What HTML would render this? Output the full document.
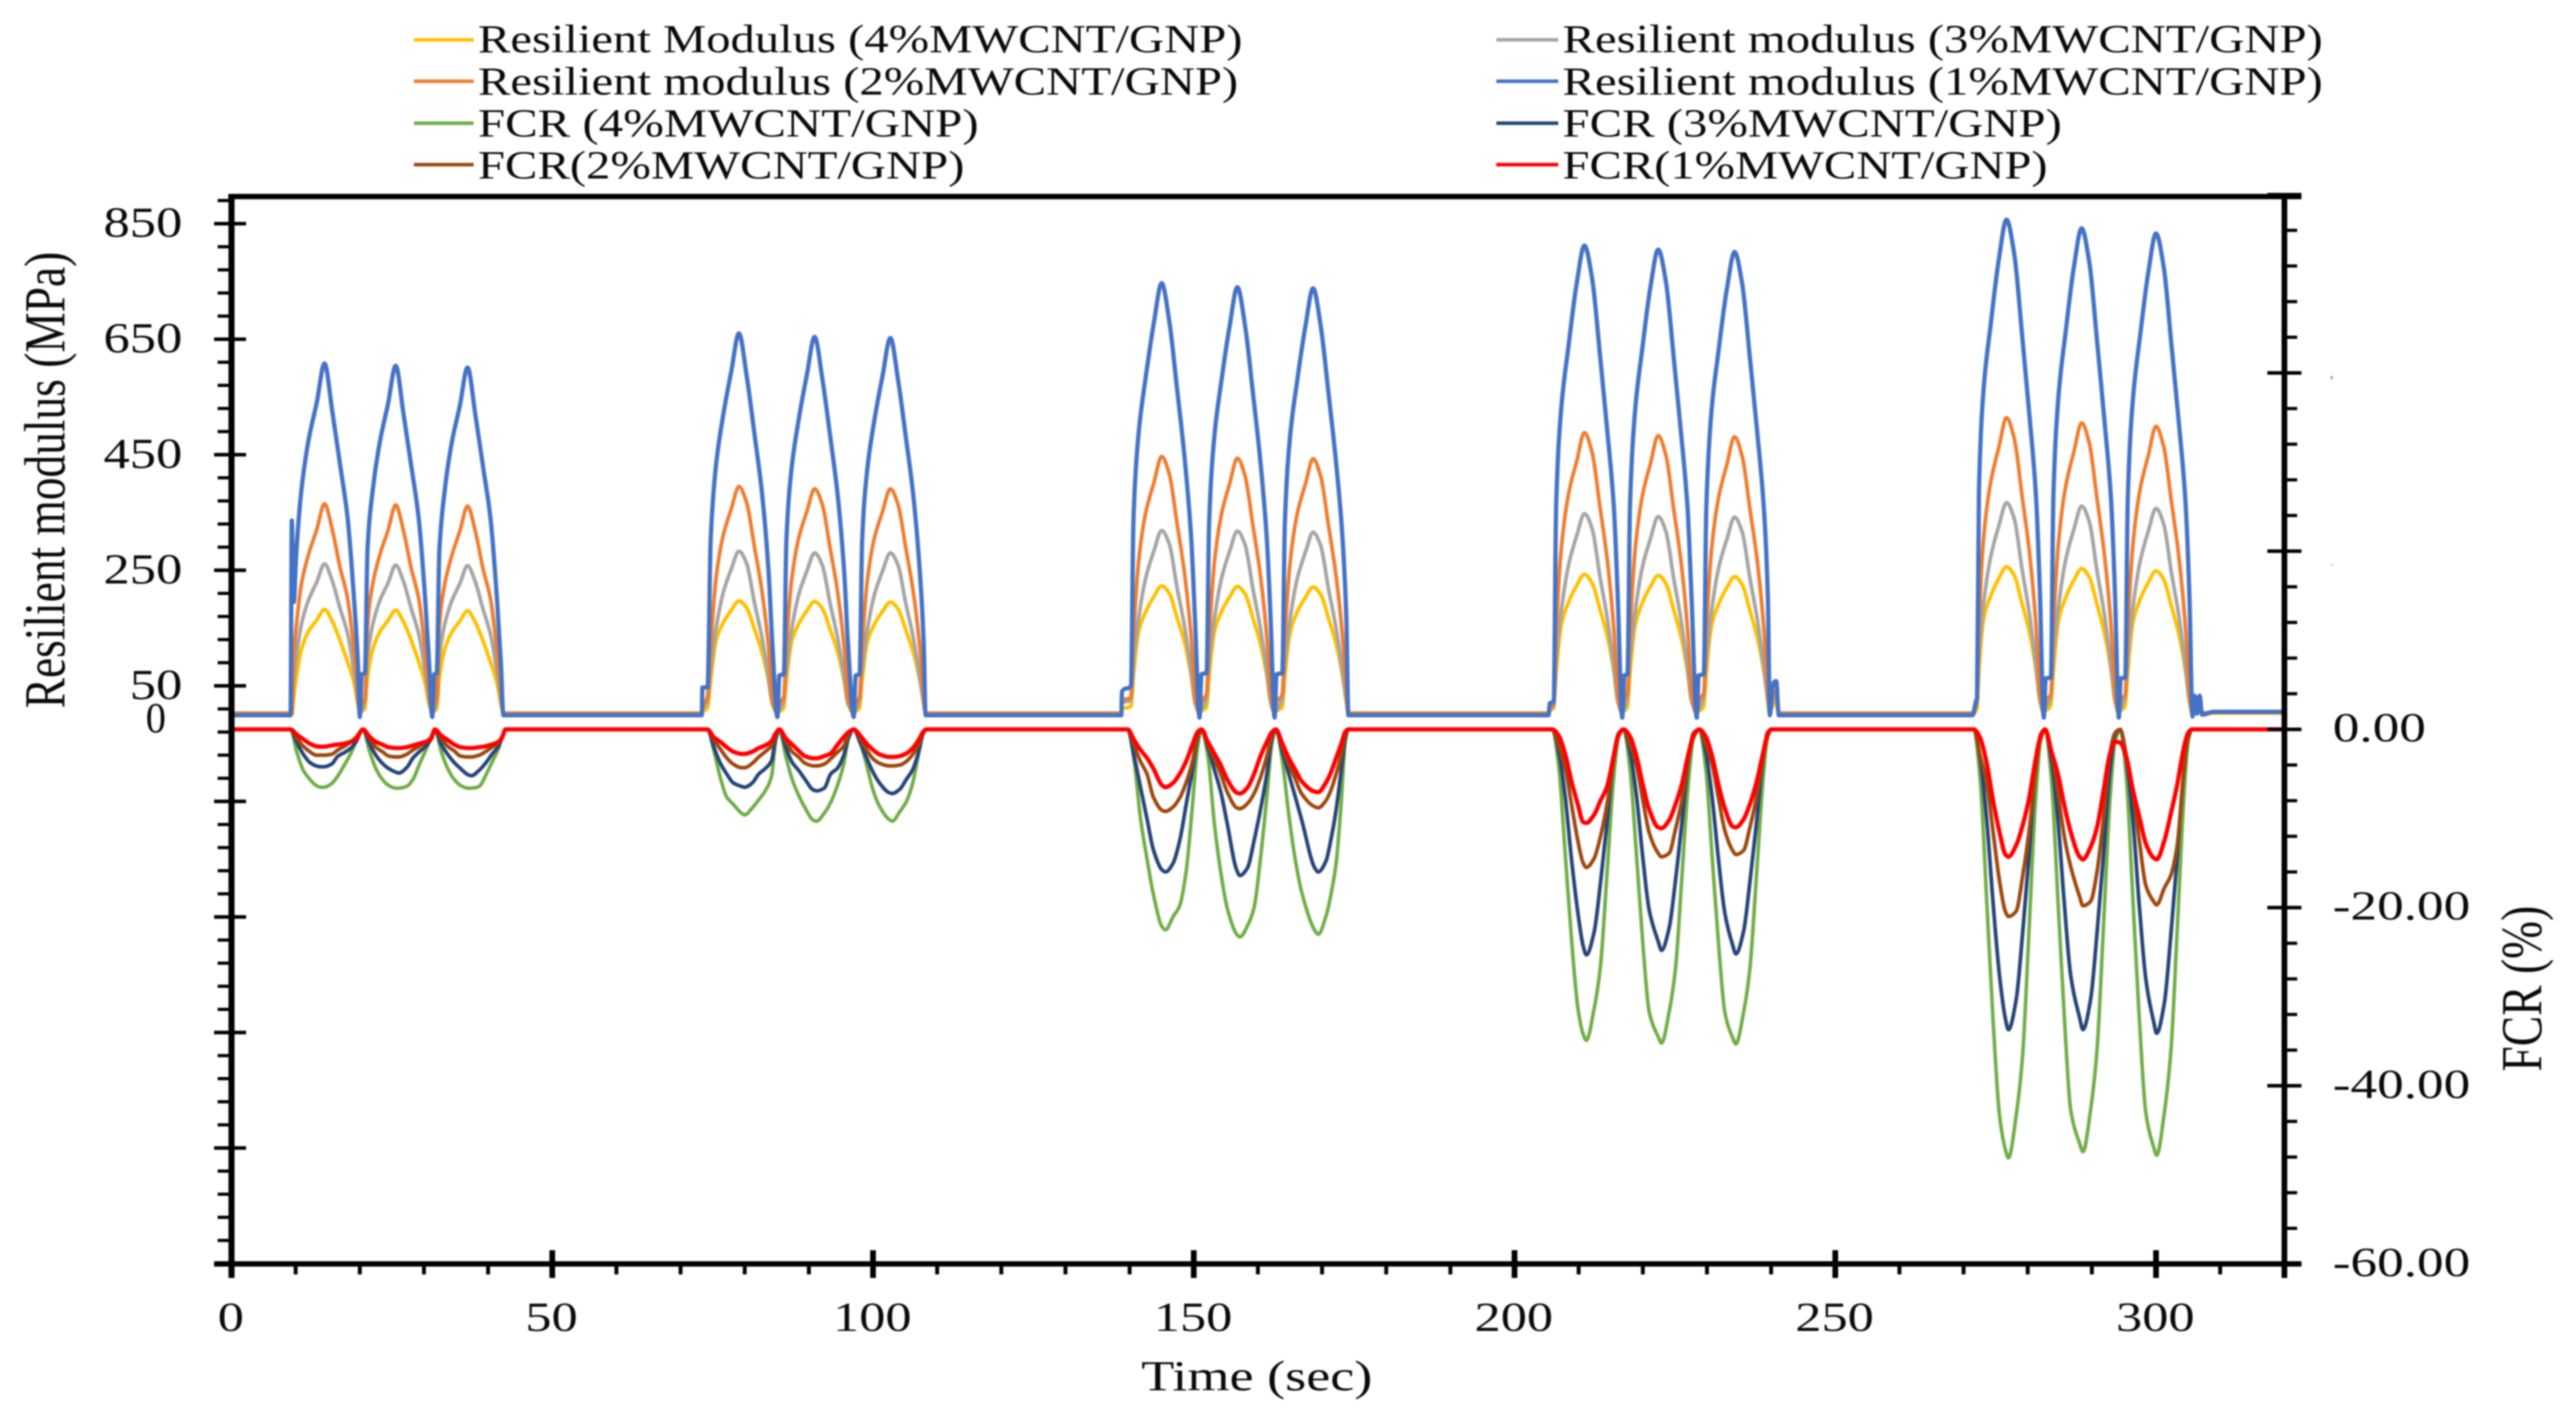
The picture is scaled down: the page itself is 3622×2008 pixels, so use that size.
<!DOCTYPE html>
<html lang="en">
<head>
<meta charset="utf-8">
<title>Resilient modulus and FCR vs time</title>
<style>
html,body{margin:0;padding:0;background:#fff;width:3622px;height:2008px;overflow:hidden}
svg{display:block;filter:blur(1.1px)}
text{font-family:"Liberation Serif",serif;fill:#0a0a0a}
</style>
</head>
<body>
<svg id="chart" xmlns="http://www.w3.org/2000/svg" width="3622" height="2008" viewBox="0 0 3622 2008">
  <rect width="3622" height="2008" fill="#fff"/>
  <g id="plot"></g>
  <g id="axes"></g>
  <g id="labels"></g>

  <g>
    <g>
      <line x1="582" x2="666" y1="56" y2="56" stroke="#FFC000" stroke-width="5"/>
      <text x="672" y="73.7" font-size="56" textLength="1075" lengthAdjust="spacingAndGlyphs">Resilient Modulus (4%MWCNT/GNP)</text>
    </g>
    <g>
      <line x1="582" x2="666" y1="114.3" y2="114.3" stroke="#ED7D31" stroke-width="5"/>
      <text x="672" y="133" font-size="56" textLength="1069" lengthAdjust="spacingAndGlyphs">Resilient modulus (2%MWCNT/GNP)</text>
    </g>
    <g>
      <line x1="582" x2="666" y1="173.3" y2="173.3" stroke="#70AD47" stroke-width="5"/>
      <text x="672" y="192" font-size="56" textLength="704" lengthAdjust="spacingAndGlyphs">FCR (4%MWCNT/GNP)</text>
    </g>
    <g>
      <line x1="582" x2="666" y1="231.5" y2="231.5" stroke="#9E480E" stroke-width="5"/>
      <text x="672" y="251" font-size="56" textLength="684" lengthAdjust="spacingAndGlyphs">FCR(2%MWCNT/GNP)</text>
    </g>
    <g>
      <line x1="2104" x2="2191" y1="56" y2="56" stroke="#A5A5A5" stroke-width="5"/>
      <text x="2197" y="73.7" font-size="56" textLength="1069" lengthAdjust="spacingAndGlyphs">Resilient modulus (3%MWCNT/GNP)</text>
    </g>
    <g>
      <line x1="2104" x2="2191" y1="114.3" y2="114.3" stroke="#4472C4" stroke-width="5"/>
      <text x="2197" y="133" font-size="56" textLength="1069" lengthAdjust="spacingAndGlyphs">Resilient modulus (1%MWCNT/GNP)</text>
    </g>
    <g>
      <line x1="2104" x2="2191" y1="173.3" y2="173.3" stroke="#264478" stroke-width="5"/>
      <text x="2197" y="192" font-size="56" textLength="702" lengthAdjust="spacingAndGlyphs">FCR (3%MWCNT/GNP)</text>
    </g>
    <g>
      <line x1="2104" x2="2191" y1="231.5" y2="231.5" stroke="#FF0000" stroke-width="5"/>
      <text x="2197" y="251" font-size="56" textLength="682" lengthAdjust="spacingAndGlyphs">FCR(1%MWCNT/GNP)</text>
    </g>
  </g>

  <text transform="translate(90.3,996) rotate(-90) scale(1,1.28)" font-size="64" textLength="642" lengthAdjust="spacingAndGlyphs">Resilient modulus (MPa)</text>
  <text transform="translate(3573,1506.7) rotate(-90) scale(1,1.28)" font-size="64" textLength="233" lengthAdjust="spacingAndGlyphs">FCR (%)</text>
  <text x="1604.6" y="1955" font-size="60" textLength="325" lengthAdjust="spacingAndGlyphs">Time (sec)</text>
  <rect x="3277.5" y="529" width="2" height="4" fill="#666"/>
  <rect x="3277.5" y="793" width="2" height="2" fill="#999"/>
</svg>

<script>
// ---------- Resilient modulus data (MPa) ----------
const timeRM = [
0,9.2,9.4,9.7,10.1,10.9,12,13.3,14.5,15.7,16.9,18.1,19.1,19.7,
20,20.3,20.8,21.2,22,23.1,24.4,25.6,26.8,28,29.2,30.2,30.8,
31.3,31.6,32,32.4,33.2,34.3,35.6,36.8,38,39.2,40.4,41.4,42,
42.4,
73.3,73.4,74.2,74.7,75.5,76.6,77.9,79.1,80.3,81.5,82.7,83.7,84.3,
85.1,85.4,86.1,86.5,87.3,88.4,89.7,90.9,92.1,93.3,94.5,95.5,96.1,
97,97.3,97.9,98.3,99.1,100.2,101.5,102.7,103.9,105.1,106.3,107.3,107.9,
108.2,
138.7,138.8,140.2,140.6,141.4,142.5,143.8,145,146.2,147.4,148.6,149.6,150.2,
150.9,151.2,152,152.4,153.2,154.3,155.6,156.8,158,159.2,160.4,161.4,162,
162.6,162.9,163.8,164.2,165,166.1,167.4,168.6,169.8,171,172.2,173.2,173.8,
174.1,
205.3,205.5,206.1,206.5,207.3,208.4,209.7,210.9,212.1,213.3,214.5,215.5,216.1,
216.8,217.1,217.6,218,218.8,219.9,221.2,222.4,223.6,224.8,226,227,227.6,
228.4,228.7,229.5,229.9,230.7,231.8,233.1,234.3,235.5,236.7,237.9,238.9,239.5,
239.8,240.2,240.6,240.8,241.2,
271.4,271.9,272.1,272.4,273.1,274.2,275.5,276.7,277.9,279.1,280.3,281.3,281.9,
282.5,282.8,283.6,284,284.8,285.9,287.2,288.4,289.6,290.8,292,293,293.6,
294.2,294.5,295.2,295.6,296.4,297.5,298.8,300,301.2,302.4,303.6,304.6,305.2,
305.7,306,306.4,306.8,307.2,309,320];

const rm4 = [
0,0,0,30,64,113,144,164,182,162,129,91,55,18,
5,6,11,63,112,143,163,181,161,129,91,54,18,
5,6,11,63,112,142,162,180,160,128,90,54,18,
0,
0,4,12,59,126,158,181,197,185,149,108,59,18,
6,6,12,59,125,157,180,196,184,148,108,59,18,
6,6,12,59,125,156,179,195,183,147,107,59,18,
0,
0,10,14,67,143,178,205,223,210,168,123,67,20,
6,7,13,67,142,178,204,222,209,168,122,67,20,
6,7,13,66,141,177,203,221,208,167,122,66,20,
0,
0,6,12,73,156,194,224,243,228,183,134,73,22,
7,7,14,72,154,193,222,241,227,182,133,72,22,
7,7,14,72,153,191,220,239,225,180,131,72,22,
0,15,20,20,0,
0,6,12,77,164,205,236,256,241,193,141,77,23,
8,8,16,76,162,202,233,253,238,191,139,76,23,
8,8,16,75,159,199,229,249,234,188,137,75,22,
0,10,2,10,0,3,3];

const rm3 = [
3,3,3,60,99,157,198,230,261,232,185,140,73,26,
3,8,23,98,155,197,228,259,231,184,139,73,26,
3,8,23,98,155,196,227,258,230,183,138,72,26,
3,
3,8,25,79,147,209,252,283,262,195,133,64,20,
3,8,25,78,146,207,249,280,259,193,132,63,20,
3,8,25,78,146,207,249,280,259,193,132,63,20,
3,
3,20,25,89,166,236,284,319,295,220,150,72,22,
3,9,29,89,165,235,283,318,294,219,149,72,22,
3,9,28,88,164,234,281,316,292,218,149,71,22,
3,
3,10,15,97,181,258,310,348,322,240,164,78,24,
3,10,31,96,178,254,305,343,317,237,161,77,24,
3,10,31,96,178,253,304,342,316,236,161,77,24,
3,20,30,30,3,
3,12,20,103,191,272,327,367,339,253,172,83,26,
3,11,32,101,188,267,321,361,334,249,170,81,25,
3,11,32,100,186,264,318,357,330,246,168,80,25,
3,18,3,18,3,5,5];

const rm2 = [
2,2,2,100,153,226,277,321,365,321,256,201,110,37,
2,16,28,152,225,276,319,363,319,254,200,109,36,
2,16,28,152,224,274,318,361,318,253,199,108,36,
2,
2,10,32,119,233,308,356,395,367,292,213,119,28,
2,18,31,117,231,305,352,391,364,289,211,117,27,
2,18,31,117,231,305,352,391,364,289,211,117,27,
2,
2,24,30,134,264,349,402,447,416,331,241,134,31,
2,22,36,133,262,346,400,444,413,329,240,133,31,
2,22,35,133,261,346,399,443,412,328,239,133,31,
2,
2,12,18,146,288,381,439,488,454,361,264,146,34,
2,24,39,145,285,377,435,483,449,357,261,145,34,
2,24,38,144,284,375,433,481,447,356,260,144,34,
2,30,40,40,2,
2,14,24,154,303,401,463,514,478,380,278,154,36,
2,25,35,152,298,394,455,505,470,374,273,152,35,
2,25,35,150,294,389,449,499,464,369,269,150,35,
2,25,2,25,2,4,4];

const rm1 = [
-1,-1,336,195,280,389,474,541,608,526,435,340,200,91,
-4,70,72,284,387,471,538,604,522,432,338,199,91,
-4,70,72,282,385,469,535,601,520,430,337,198,90,
-1,
-1,47,47,304,429,515,594,660,587,488,383,251,125,
-4,68,70,301,425,510,589,654,582,484,379,249,124,
-4,68,70,300,424,509,587,652,580,482,378,248,124,
-1,
-1,40,50,336,486,583,680,747,680,564,441,306,164,
-5,70,72,333,481,577,673,740,673,559,437,303,163,
-5,70,72,332,480,576,672,738,672,557,435,303,162,
-1,
-1,20,22,365,532,637,747,812,755,625,487,357,203,
-5,68,70,362,527,632,741,805,749,620,483,354,201,
-5,68,70,360,525,629,737,801,745,617,481,352,200,
-1,47,58,58,-1,
-1,22,30,386,561,673,788,857,797,660,514,377,214,
-5,63,64,379,552,661,775,842,783,648,505,370,210,
-5,63,64,375,546,654,766,833,775,641,500,367,208,
-3,33,2,33,0,5,5];

// ---------- FCR data (%) ----------
const timeFCR = [
0,
9.2,10.2,11.2,12.2,13.2,13.9,14.4,15.6,16.6,17.6,18.6,19.4,
20.5,21.5,22.5,23.5,24.5,25.6,26.1,27.3,28.3,29.3,30.3,31.1,
31.7,32.7,33.7,34.7,35.7,36.9,37.4,38.6,39.6,40.6,41.6,42.2,
42.7,
74.2,75.2,76.2,77.2,78.2,79.5,80,81.2,82.2,83.2,84.2,84.8,
85.4,86.4,87.4,88.4,89.4,90.7,91.2,92.4,93.4,94.4,95.4,96.2,
97,98,99,100,101,102.5,103,104.2,105.2,106.2,107.2,107.8,
108.3,
139.7,140.7,141.7,142.7,143.7,145.1,145.6,146.8,147.8,148.8,149.8,150.6,
151.2,152.2,153.2,154.2,155.2,156.7,157.2,158.4,159.4,160.4,161.4,162.2,
162.8,163.8,164.8,165.8,166.8,168.9,169.4,170.6,171.4,172.2,173,173.6,
174.1,
205.9,206.9,207.9,208.9,209.9,210.7,211.2,212.4,213.4,214.4,215.4,216.2,
217,218,219,220,221,222.4,222.9,224.1,225.1,226.1,227.1,227.9,
228.8,229.8,230.8,231.8,232.8,234,234.5,235.7,236.7,237.7,238.7,239.4,
240,
271.6,272.6,273.6,274.6,275.6,276.5,277,278.2,279.2,280.2,281.2,282,
282.7,283.7,284.7,285.7,286.7,288.1,288.6,289.8,290.8,291.8,292.8,293.6,
294.4,295.4,296.4,297.4,298.4,299.6,300.1,301.3,302.3,303.3,304.3,305,
305.6,320];

const fcr4 = [
0,
0,-2.6,-4.6,-5.6,-6.3,-6.5,-6.5,-6.1,-5.2,-4,-2.7,-1.4,
0,-2.4,-4.4,-5.6,-6.3,-6.6,-6.6,-6.4,-5.6,-3.9,-2.3,-0.9,
0,-2.5,-4.4,-5.6,-6.3,-6.6,-6.6,-6.4,-5.2,-3.7,-2.2,-0.9,
0,
0,-2.4,-5.4,-7.6,-8.4,-9.4,-9.6,-8.8,-7.9,-6.9,-5.2,-1.5,
0,-3,-5.6,-7.4,-8.8,-10.2,-10.3,-9.4,-8.2,-6.4,-4,-1,
0,-1.5,-4,-6.8,-8.6,-10.1,-10.3,-9.2,-8.1,-6,-2.4,-0.5,
0,
0,-3.5,-10,-14.5,-18.5,-22.2,-22.5,-21,-19.8,-16,-8.5,-2,
0,-3,-10.5,-16,-20,-23,-23.3,-22,-20,-14.5,-7.5,-1.5,
0,-3.5,-9.5,-14.5,-18.2,-22.6,-23,-21,-18.5,-15,-8,-1.5,
0,
0,-4.2,-14,-23.7,-31.4,-34.2,-34.9,-31.4,-26.5,-16.4,-5.9,-1,
0,-4.5,-14,-24,-31.7,-34.5,-35.2,-31.7,-26.8,-16.5,-6,-1,
0,-4.3,-14.2,-24,-31.8,-34.6,-35.3,-31.8,-26.8,-16.6,-6,-1.1,
0,
0,-5.8,-19.2,-32.7,-43.3,-47.1,-48.1,-43.3,-36.6,-22.6,-8.2,-1.4,
0,-5.7,-19,-32.2,-42.7,-46.5,-47.4,-42.7,-36,-22.3,-8.1,-1.4,
0,-5.7,-19.1,-32.5,-43,-46.8,-47.8,-43,-36.3,-22.5,-8.1,-1.4,
0,0];

const fcr3 = [
0,
0,-1.5,-2.8,-3.7,-4.1,-4.2,-4.2,-3.9,-3,-2.6,-2.1,-1.4,
0,-1.6,-2.9,-3.8,-4.4,-4.8,-4.9,-4.3,-3.2,-2.5,-1.9,-1.1,
0,-1.7,-2.8,-3.7,-4.4,-5.1,-5.2,-4.6,-3.8,-2.8,-1.9,-0.9,
0,
0,-2,-3.8,-5,-6,-6.4,-6.5,-6,-5,-4.4,-3.5,-1,
0,-2,-3.7,-4.6,-5.6,-6.8,-6.9,-6.6,-5,-4.4,-3,-0.9,
0,-1.5,-3.2,-4.8,-6,-7.1,-7.2,-6.7,-5.6,-4.5,-2.3,-0.5,
0,
0,-3,-6.5,-10,-13.5,-15.8,-16,-15,-12.5,-8.5,-4.5,-1,
0,-2,-4.5,-7,-10.5,-15.8,-16.4,-15.5,-12.5,-9,-5,-1,
0,-2.5,-5,-7.5,-10.1,-15.6,-16,-14.8,-12.3,-9,-4.5,-1,
0,
0,-2.5,-7.6,-14.7,-20.7,-24.3,-25.3,-22.8,-17.2,-10.6,-3.5,-0.5,
0,-2.5,-7.4,-14.4,-20.3,-23.8,-24.8,-22.3,-16.9,-10.4,-3.5,-0.5,
0,-2.5,-7.6,-14.6,-20.7,-24.2,-25.2,-22.7,-17.1,-10.6,-3.5,-0.5,
0,
0,-3.4,-10.1,-19.5,-27.6,-32.4,-33.7,-30.3,-22.9,-14.2,-4.7,-0.7,
0,-3.4,-10.1,-19.5,-27.6,-32.4,-33.7,-30.3,-22.9,-14.2,-4.7,-0.7,
0,-3.4,-10.2,-19.8,-28,-32.7,-34.1,-30.7,-23.2,-14.3,-4.8,-0.7,
0,0];

const fcr2 = [
0,
0,-1,-1.9,-2.5,-2.9,-2.9,-2.9,-2.8,-2.3,-1.9,-1.4,-0.9,
0,-1,-2,-2.5,-3,-3.1,-3.1,-2.8,-2.3,-1.9,-1.4,-0.9,
0,-1,-1.9,-2.4,-3,-3.1,-3.1,-2.9,-2.5,-2,-1.5,-0.8,
0,
0,-1.2,-2.2,-3.2,-3.9,-4.3,-4.3,-3.8,-3.1,-2.5,-1.8,-0.6,
0,-1.3,-2.5,-3.1,-3.8,-4.1,-4.1,-3.9,-3.3,-2.6,-1.9,-0.6,
0,-1,-2.3,-3.3,-3.8,-4.1,-4.1,-4,-3.6,-2.8,-1.6,-0.4,
0,
0,-1.8,-3.6,-5,-7.6,-9.1,-9.2,-8.7,-7.7,-6,-3.6,-0.8,
0,-1.7,-3.3,-5,-7,-8.8,-8.9,-8.3,-7.2,-5.4,-3,-0.7,
0,-2,-3.9,-5.5,-7.2,-8.7,-8.8,-8,-6.8,-5,-2.8,-0.6,
0,
0,-1.9,-4.3,-8.5,-12.6,-15,-15.5,-14.5,-12,-8.5,-3.7,-0.5,
0,-1.7,-4,-7.9,-11.6,-13.9,-14.3,-13.9,-11.2,-7.9,-3.4,-0.4,
0,-1.7,-3.9,-7.7,-11.4,-13.6,-14.05,-13.6,-11,-7.7,-3.4,-0.4,
0,
0,-3,-6,-11.5,-17,-20.4,-21,-20.4,-16.5,-11.5,-5,-0.6,
0,-2.5,-7,-12,-15.4,-18.8,-19.8,-19.3,-16,-10,-2.8,-0.4,
0,-3,-7,-12.5,-17.5,-19.3,-19.7,-17.8,-16.4,-13,-5,-1,
0,0];

const fcr1 = [
0,
0,-0.6,-1.1,-1.6,-1.9,-1.95,-1.95,-1.8,-1.7,-1.6,-1.4,-1.1,
0,-0.8,-1.4,-1.7,-2,-2.1,-2.1,-2,-1.8,-1.6,-1.4,-1.1,
0,-0.7,-1.2,-1.7,-2,-2.1,-2.1,-2,-1.9,-1.7,-1.4,-0.9,
0,
0,-0.9,-1.4,-2,-2.5,-2.75,-2.75,-2.5,-2.1,-1.8,-1.3,-0.5,
0,-1,-1.7,-2.4,-3,-3.25,-3.25,-3,-2.7,-1.8,-0.9,-0.3,
0,-0.7,-1.6,-2.3,-2.8,-3.1,-3.1,-3,-2.7,-2.1,-1.1,-0.3,
0,
0,-1.2,-2.3,-3.2,-4.4,-6.3,-6.5,-6,-5,-3.6,-1.7,-0.3,
0,-1.4,-2.7,-4,-5.6,-7.1,-7.2,-6.5,-5,-3,-1.4,-0.3,
0,-1.6,-3.2,-4.5,-5.8,-7,-7.05,-6,-4.8,-3.2,-1.6,-0.3,
0,
0,-0.7,-2.8,-5.9,-8.5,-10.4,-10.5,-9.6,-8,-6.5,-3.2,-0.6,
0,-0.8,-3,-6.2,-9,-11,-11.1,-10.2,-8.4,-6.1,-2.8,-0.7,
0,-0.8,-3,-6.2,-8.9,-10.9,-11,-10.1,-8.4,-6,-2.8,-0.7,
0,
0,-1,-3.8,-8,-11.5,-14,-14.3,-13,-10.8,-7.8,-3.5,-0.8,
0,-2.5,-5,-8.5,-11.5,-14.3,-14.6,-13.2,-11,-7,-2.8,-1.4,
-1.5,-3.2,-6.8,-9.8,-12.8,-14.4,-14.6,-12.5,-9.5,-6.2,-2.2,-0.4,
0,0];

// ---------- Tick labels ----------
const xTickLabels = [0,50,100,150,200,250,300];
const leftTickLabels = [850,650,450,250,50,0];
const rightTickLabels = ["0.00","-20.00","-40.00","-60.00"];
const rightTickValues = [0,-20,-40,-60];

// ---------- Axis functions ----------
const xScale = t => 325.5 + 9.02 * t;
const yRM = v => 1005 - 0.8124 * v;
const yFCR = v => 1025.6 - 12.53 * v;

const NS = 'http://www.w3.org/2000/svg';
const plot = document.getElementById('plot');
const axes = document.getElementById('axes');
const labels = document.getElementById('labels');

// monotone cubic path through the data points, so curves stay rounded without overshoot
function smoothPath(xs, ys) {
  const n = xs.length;
  const d = [], h = [], m = new Array(n).fill(0);
  for (let i = 0; i < n - 1; i++) {
    h[i] = xs[i + 1] - xs[i];
    d[i] = (ys[i + 1] - ys[i]) / h[i];
  }
  for (let i = 1; i < n - 1; i++) {
    if (d[i - 1] * d[i] > 0) {
      m[i] = 3 * (h[i - 1] + h[i]) / ((2 * h[i] + h[i - 1]) / d[i - 1] + (h[i] + 2 * h[i - 1]) / d[i]);
    }
  }
  let s = 'M' + xs[0].toFixed(1) + ' ' + ys[0].toFixed(1);
  for (let i = 0; i < n - 1; i++) {
    const c = h[i] / 3;
    s += 'C' + (xs[i] + c).toFixed(1) + ' ' + (ys[i] + m[i] * c).toFixed(1) + ' ' +
         (xs[i + 1] - c).toFixed(1) + ' ' + (ys[i + 1] - m[i + 1] * c).toFixed(1) + ' ' +
         xs[i + 1].toFixed(1) + ' ' + ys[i + 1].toFixed(1);
  }
  return s;
}

function drawSeries(name, times, values, scale, color, width) {
  const n = Math.min(times.length, values.length);
  const xs = [], ys = [];
  for (let i = 0; i < n; i++) {
    xs.push(xScale(times[i]));
    ys.push(scale(values[i]));
  }
  const line = document.createElementNS(NS, 'path');
  line.setAttribute('d', smoothPath(xs, ys));
  line.setAttribute('fill', 'none');
  line.setAttribute('stroke', color);
  line.setAttribute('stroke-width', width);
  line.setAttribute('stroke-linejoin', 'round');
  line.setAttribute('stroke-linecap', 'round');
  
  
  plot.appendChild(line);
}

drawSeries('series-rm-4', timeRM, rm4, yRM, '#FFC000', 5.2);
drawSeries('series-rm-3', timeRM, rm3, yRM, '#A5A5A5', 5.2);
drawSeries('series-rm-2', timeRM, rm2, yRM, '#ED7D31', 5.2);
drawSeries('series-rm-1', timeRM, rm1, yRM, '#4472C4', 6);
drawSeries('series-fcr-4', timeFCR, fcr4, yFCR, '#70AD47', 5);
drawSeries('series-fcr-3', timeFCR, fcr3, yFCR, '#264478', 5.2);
drawSeries('series-fcr-2', timeFCR, fcr2, yFCR, '#9E480E', 5.2);
drawSeries('series-fcr-1', timeFCR, fcr1, yFCR, '#FF0000', 6);

function drawRule(name, x1, y1, x2, y2, w) {
  const el = document.createElementNS(NS, 'line');
  el.setAttribute('x1', x1);
  el.setAttribute('y1', y1);
  el.setAttribute('x2', x2);
  el.setAttribute('y2', y2);
  el.setAttribute('stroke', '#000');
  el.setAttribute('stroke-width', w);
  
  
  axes.appendChild(el);
}

// axis spines
drawRule('left-axis-line', 325.5, 273, 325.5, 1797, 8.5);
drawRule('right-axis-line', 3212, 273, 3212, 1797, 8);
drawRule('top-axis-line', 321, 276.4, 3236, 276.4, 7.5);
drawRule('bottom-axis-line', 301, 1777.3, 3236, 1777.3, 7.5);

// x ticks every 10 s, major every 50 s
for (let v = 0; v <= 320; v += 10) {
  const x = xScale(v);
  if (v % 50 === 0) {
    drawRule('x-major-tick', x, v === 0 ? 1777 : 1758, x, 1797, 8);
  } else {
    drawRule('x-minor-tick', x, 1777, x, 1792, 5.5);
  }
}
// left ticks: minor every 40 MPa, major every 200 MPa from -950
for (let v = -950; v <= 890; v += 40) {
  drawRule('left-minor-tick', 306, yRM(v), 325, yRM(v), 4.5);
}
for (let v = -950; v <= 850; v += 200) {
  drawRule('left-major-tick', 301, yRM(v), 346, yRM(v), 5);
}
// right ticks: minor every 4 %, major every 20 %
for (let v = -60; v <= 60; v += 4) {
  drawRule('right-minor-tick', 3212, yFCR(v), 3230, yFCR(v), 4.5);
}
for (let v = -60; v <= 60; v += 20) {
  drawRule('right-major-tick', 3188, yFCR(v), 3236, yFCR(v), 5);
}

function drawLabel(name, str, x, y, size, anchor, sx) {
  const t = document.createElementNS(NS, 'text');
  t.setAttribute('transform', 'translate(' + x + ',' + y + ') scale(' + sx + ',1)');
  t.setAttribute('font-size', size);
  t.setAttribute('text-anchor', anchor);
  
  
  t.textContent = str;
  labels.appendChild(t);
}

xTickLabels.forEach(v => {
  drawLabel('x-tick-label', String(v), xScale(v) - 1, 1871.7, 58, 'middle', 1.27);
});
leftTickLabels.forEach(v => {
  if (v === 0) {
    drawLabel('left-tick-label', String(v), 233.4, yRM(v) + 25, 60, 'end', 0.95);
  } else {
    drawLabel('left-tick-label', String(v), 256.4, yRM(v) + 18.5, 60, 'end', 1.233);
  }
});
rightTickLabels.forEach((s, i) => {
  drawLabel('right-tick-label', s, 3280, yFCR(rightTickValues[i]) + 17, 58, 'start', 1.29);
});
</script>
</body>
</html>
